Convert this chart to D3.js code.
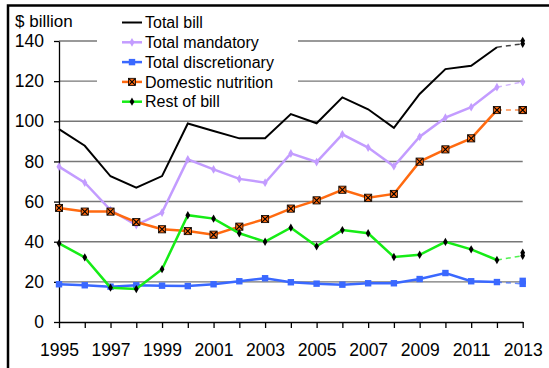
<!DOCTYPE html>
<html>
<head>
<meta charset="utf-8">
<script src="https://cdn.jsdelivr.net/npm/d3@7"></script>
<style>
  html, body { margin: 0; padding: 0; background: #fff; }
  svg { display: block; font-family: "Liberation Sans", Arial, sans-serif; }
</style>
</head>
<body>
<svg id="chart" width="549" height="368"></svg>
<script>
// Farm bill outlays, $ billion, fiscal years 1995-2012 (actual) plus 2013 (two estimates)
const years = d3.range(1995, 2013);
const projYear = 2013;
const yTicks = [0, 20, 40, 60, 80, 100, 120, 140];

const totalBill      = [96.1, 87.8, 72.6, 66.9, 72.7, 98.9, 95.2, 91.5, 91.5, 103.6, 99.0, 111.9, 106.0, 96.7, 113.6, 126.0, 127.7, 136.9];
const totalMandatory = [77.4, 69.4, 55.8, 48.3, 54.5, 81.0, 76.0, 71.3, 69.4, 84.0, 79.7, 93.5, 86.9, 77.6, 92.3, 101.8, 107.0, 117.0];
const totalDiscr     = [18.8, 18.3, 17.6, 18.3, 18.1, 17.9, 18.8, 20.3, 21.8, 19.8, 19.1, 18.6, 19.3, 19.3, 21.4, 24.4, 20.3, 19.9];
const domNutrition   = [56.8, 55.0, 55.0, 49.8, 46.2, 45.3, 43.5, 47.5, 51.3, 56.5, 60.6, 65.9, 61.9, 63.8, 79.9, 86.0, 91.5, 105.6];
const restOfBill     = [39.2, 32.2, 17.1, 16.4, 26.3, 53.2, 51.5, 44.2, 40.0, 47.0, 37.7, 45.8, 44.2, 32.4, 33.5, 39.9, 36.2, 30.9];

// 2013 estimates (first value is where the dashed extension ends)
const totalBill2013      = [138.6, 140.1];
const totalMandatory2013 = [119.6, 119.6];
const totalDiscr2013     = [19.0, 20.5];
const domNutrition2013   = [105.6, 105.6];
const restOfBill2013     = [33.0, 34.5];

const seriesNames = ["Total bill", "Total mandatory", "Total discretionary", "Domestic nutrition", "Rest of bill"];

const series = [
  { name: seriesNames[0], values: totalBill,      est: totalBill2013,      color: "#000000", width: 2,   marker: "none",    endMarker: "dot" },
  { name: seriesNames[1], values: totalMandatory, est: totalMandatory2013, color: "#c39cff", width: 2.5, marker: "diamond" },
  { name: seriesNames[2], values: totalDiscr,     est: totalDiscr2013,     color: "#3a68ff", width: 2.5, marker: "square" },
  { name: seriesNames[3], values: domNutrition,   est: domNutrition2013,   color: "#ff6a10", width: 2.5, marker: "xsquare" },
  { name: seriesNames[4], values: restOfBill,     est: restOfBill2013,     color: "#16ec16", width: 2.5, marker: "blackdiamond" }
];

const svg = d3.select("#chart");

// outer frame
svg.append("rect")
  .attr("x", 8).attr("y", 5.5).attr("width", 560).attr("height", 380)
  .attr("fill", "none").attr("stroke", "#000").attr("stroke-width", 2.5);

const x = d3.scaleLinear().domain([1995, 2013]).range([59, 522.7]);
const y = d3.scaleLinear().domain([0, 140]).range([322, 41]);

// horizontal gridlines
svg.append("g").selectAll("line")
  .data(yTicks.filter(d => d > 0))
  .join("line")
  .attr("x1", x(1995)).attr("x2", x(2013))
  .attr("y1", d => y(d)).attr("y2", d => y(d))
  .attr("stroke", "#777").attr("stroke-width", 1.4);

// axes
const yAxis = svg.append("g")
  .attr("transform", `translate(${x(1995)},0)`)
  .call(d3.axisLeft(y).tickValues(yTicks).tickSize(5).tickSizeOuter(0).tickPadding(10));
yAxis.selectAll("text").attr("font-size", 17.5).attr("fill", "#000").attr("font-family", "Liberation Sans, Arial, sans-serif");

const xAxis = svg.append("g")
  .attr("transform", `translate(0,${y(0)})`)
  .call(d3.axisBottom(x).tickValues(d3.range(1995, 2014)).tickSize(6).tickSizeOuter(0).tickPadding(16)
    .tickFormat(d => (d % 2 === 1 ? String(d) : "")));
xAxis.selectAll("text").attr("font-size", 17.5).attr("fill", "#000").attr("font-family", "Liberation Sans, Arial, sans-serif");

[yAxis, xAxis].forEach(g => {
  g.select(".domain").attr("stroke", "#000").attr("stroke-width", 1.3);
  g.selectAll(".tick line").attr("stroke", "#000").attr("stroke-width", 1.3);
});

// unit label
svg.append("text")
  .attr("x", 15).attr("y", 27)
  .attr("font-size", 17).attr("fill", "#000")
  .text("$ billion");

// marker drawing
function drawMarker(g, type, cx, cy, color) {
  if (type === "diamond") {
    g.append("path").attr("d", d3.symbol(d3.symbolDiamond, 22)())
      .attr("transform", `translate(${cx},${cy})`).attr("fill", color);
  } else if (type === "square") {
    g.append("rect").attr("x", cx - 3.2).attr("y", cy - 3.2).attr("width", 6.4).attr("height", 6.4)
      .attr("fill", color);
  } else if (type === "xsquare") {
    g.append("rect").attr("x", cx - 3.6).attr("y", cy - 3.6).attr("width", 7.2).attr("height", 7.2)
      .attr("fill", color).attr("stroke", "#000").attr("stroke-width", 0.8);
    g.append("path")
      .attr("d", `M${cx - 3.2},${cy - 3.2}L${cx + 3.2},${cy + 3.2}M${cx + 3.2},${cy - 3.2}L${cx - 3.2},${cy + 3.2}`)
      .attr("stroke", "#000").attr("stroke-width", 1.1);
  } else if (type === "blackdiamond" || type === "dot") {
    g.append("path").attr("d", d3.symbol(d3.symbolDiamond, 20)())
      .attr("transform", `translate(${cx},${cy})`).attr("fill", "#000");
  }
}

const line = d3.line().x(d => x(d.year)).y(d => y(d.value));

const plot = svg.append("g");
series.forEach(s => {
  const pts = years.map((yr, i) => ({ year: yr, value: s.values[i] }));
  const last = pts[pts.length - 1];
  const g = plot.append("g");
  // dashed extension to the 2013 estimate
  g.append("path")
    .attr("d", line([last, { year: projYear, value: s.est[0] }]))
    .attr("fill", "none").attr("stroke", s.color).attr("stroke-width", 1.5)
    .attr("stroke-dasharray", "5,4").attr("opacity", 0.75);
  g.append("path")
    .attr("d", line(pts))
    .attr("fill", "none").attr("stroke", s.color).attr("stroke-width", s.width)
    .attr("stroke-linejoin", "miter");
  pts.forEach(p => drawMarker(g, s.marker, x(p.year), y(p.value), s.color));
  s.est.forEach(v => drawMarker(g, s.endMarker || s.marker, x(projYear), y(v), s.color));
});

// legend
const legend = svg.append("g");
legend.append("rect")
  .attr("x", 97).attr("y", 9).attr("width", 201).attr("height", 104).attr("fill", "#fff");
series.forEach((s, i) => {
  const ly = 22.5 + i * 19.8;
  legend.append("line")
    .attr("x1", 122).attr("x2", 142).attr("y1", ly).attr("y2", ly)
    .attr("stroke", s.color).attr("stroke-width", s.width);
  drawMarker(legend, s.marker, 132, ly, s.color);
  legend.append("text")
    .attr("x", 145).attr("y", ly).attr("dy", "0.35em")
    .attr("font-size", 16).attr("fill", "#000")
    .text(s.name);
});
</script>
</body>
</html>
